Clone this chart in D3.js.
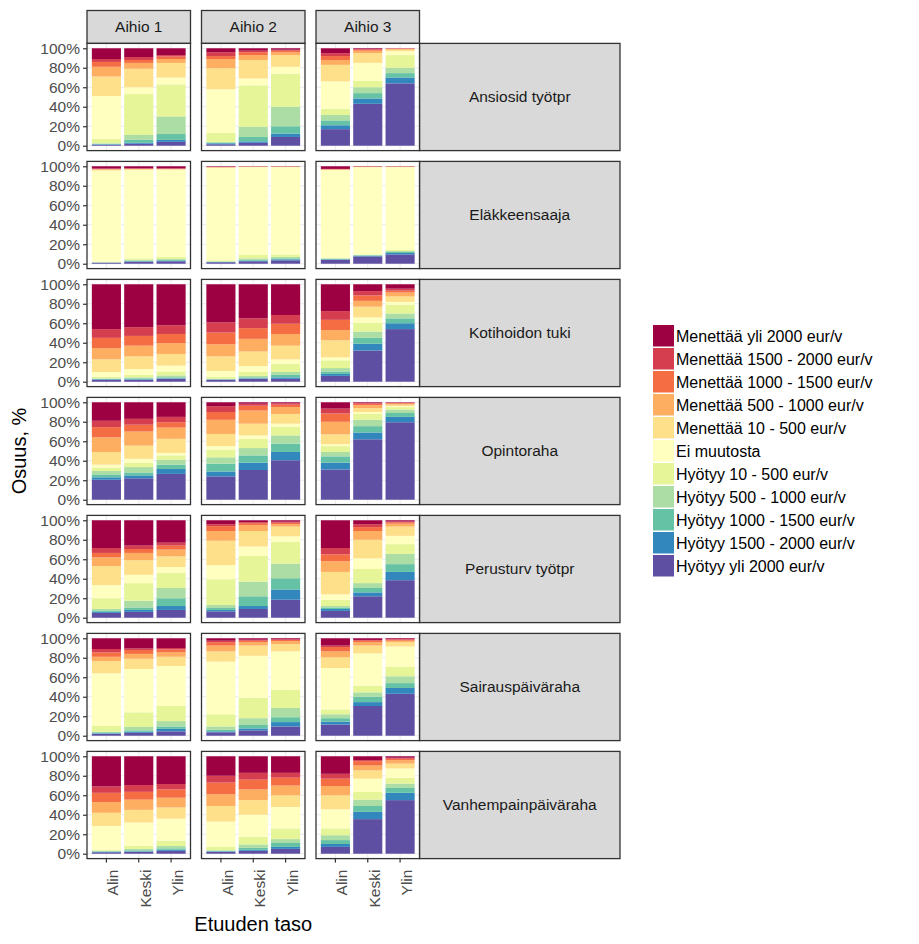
<!DOCTYPE html>
<html><head><meta charset="utf-8">
<script src="https://cdn.jsdelivr.net/npm/d3@7"></script>
<style>body{margin:0;background:#fff;}svg{display:block;font-family:"Liberation Sans",Arial,sans-serif;}</style>
</head><body><svg id="c" width="919" height="944"></svg>
<script>
// Legend order (top to bottom)
const categories = ["Menettää yli 2000 eur/v","Menettää 1500 - 2000 eur/v","Menettää 1000 - 1500 eur/v","Menettää 500 - 1000 eur/v","Menettää 10 - 500 eur/v","Ei muutosta","Hyötyy 10 - 500 eur/v","Hyötyy 500 - 1000 eur/v","Hyötyy 1000 - 1500 eur/v","Hyötyy 1500 - 2000 eur/v","Hyötyy yli 2000 eur/v"];
const colors = ["#9e0142","#d53e4f","#f46d43","#fdae61","#fee08b","#ffffbf","#e6f598","#abdda4","#66c2a5","#3288bd","#5e4fa2"];
const schemes = ["Aihio 1","Aihio 2","Aihio 3"];
const levels = ["Alin","Keski","Ylin"];
const benefits = ["Ansiosid työtpr","Eläkkeensaaja","Kotihoidon tuki","Opintoraha","Perusturv työtpr","Sairauspäiväraha","Vanhempainpäiväraha"];
const yTicks = [0,0.2,0.4,0.6,0.8,1];
// values per bar, stacked bottom (Hyötyy yli 2000) to top (Menettää yli 2000), %
// rows: Aihio1 Alin/Keski/Ylin, Aihio2 ..., Aihio3 ...
const ansiosid = [
[1,0.5,0.5,0.5,4.5,44,20,10,5,3,11],
[2,1,3,5,42,7,19,6,3,3,9],
[4,2,6,18,33,7,15,4,2.5,1.5,7],
[1.5,1,0.5,1,9,45,21.5,9.5,3,4,4],
[3,1.5,4.5,10.5,42.5,7,19,5,3,1.5,2.5],
[9,3.5,7.5,20,34,7,12,3,1.5,1,1.5],
[17,4,5,5.5,6.5,28,17,5,4,3,5],
[43,5.5,5.5,6,6.5,18.5,10,2.5,1,0.8,0.7],
[64,6,4.5,5.5,13,4,1.5,0.8,0.3,0.2,0.2]];
const elake = [
[1,0.2,0.2,0.2,0.4,93.5,1,0.5,0.3,0.4,2.3],
[2,0.5,0.5,1,1.5,90.5,1,0.3,0.2,0.4,2.1],
[2.5,0.5,1,1,2,89.5,0.5,0.3,0.2,0.3,2.2],
[1.5,0.3,0.2,0.5,1,95,0.3,0.2,0.2,0.3,0.5],
[2.5,0.5,1,1.5,3.5,90,0.3,0.2,0.1,0.2,0.2],
[3.5,1,1,1.5,2.5,89.5,0.3,0.2,0.1,0.2,0.2],
[4,0.5,0.5,0.5,0.5,90,0.5,0.3,0.2,0.3,2.7],
[7.5,0.7,0.5,0.3,0.5,89.5,0.2,0.2,0.1,0.2,0.3],
[9.5,1.5,1,1,1,85,0.3,0.2,0.1,0.2,0.2]];
const koti = [
[2,0.5,0.5,0.5,1.5,5,13,11.5,10.5,9,46],
[2,0.5,1,1,2.5,6,13,11,10,9,44],
[3,0.5,1,2,4,6,12,11,9.5,9,42],
[2,0.3,0.3,0.4,2,6,15,12.5,12,10.5,39],
[3,0.5,1,1.5,4,6,15,13,11,10,35],
[3,1.5,2.5,3,8.5,4.5,14,12,10.5,9,31.5],
[6,2,2.5,3.5,8,3,17.5,10.5,10.5,9,27.5],
[32,7,6,6.5,9,5.5,11,6,5.5,4.5,7],
[54,6,5,5,9,3,5.5,4,2,2,4.5]];
const opinto = [
[20.5,2.5,3,3.5,3.5,3,13,15,10.5,6.5,19],
[22,3,3,5.5,4.5,4,13.5,14.5,7,6,17],
[26.5,5,4.5,5,4.5,2.5,14.5,11.5,5.5,5.5,15],
[24,5,8,6.5,8,3.5,12.5,14.5,8,6,4],
[30.5,7.5,7.5,7.5,9.5,3.5,12,13.5,5,2,1.5],
[40.5,8.5,8.5,8.5,9,3,10,7,2.5,1.5,1],
[31,7,6.5,4.5,6,2,10,13,8.5,5,6.5],
[62,7,6.5,6.5,6,2,4,3,1.5,0.8,0.7],
[79.5,5.5,4,3.5,2.5,1,1.5,1,0.8,0.3,0.4]];
const perus = [
[5,1,1.5,1.5,11,13.5,19.5,9,4.5,5,28.5],
[6,2,2.5,7,18,8.5,15,7.5,4,3.5,26],
[8,4,8,10.5,15.5,6,11,7,4,3,23],
[6.5,1.5,2,3,26.5,14.5,25,10,5,2,4],
[9,3,10,15,26.5,9.5,16,6,2,1,2],
[18.5,10.5,11.5,15,22.5,5.5,10,2.5,1.5,1,1.5],
[7,2,1.5,1.5,6.5,5.5,23,11,7,6.5,28.5],
[22,4,4.5,5,14.5,11,19,9,4,3,4],
[38.5,8.5,8,10.5,10,8.5,9.5,3,1.5,0.7,1.3]];
const saira = [
[2,0.5,1,0.5,6,54,12.5,4.5,4.5,3.5,11],
[3,1,1.5,3.5,15,44.5,10.5,5,4,1.5,10.5],
[4.5,2.5,2.5,5.5,15.5,41,9.5,4.5,3,1.5,10],
[3.5,1,1.5,3.5,12.5,54,10.5,6,3.5,1.5,2.5],
[5.5,2,3.5,7,21,43,10.5,3.5,1.5,1,1.5],
[9.5,4.5,5,9.5,18.5,39.5,7.5,3,1.3,0.7,1],
[11.5,3,3.5,4,5,42.5,11,6,4.5,1.5,7.5],
[30.5,4,5.5,4.5,7,33,8,3.5,1.5,0.8,1.7],
[43,6,5,7,9.5,21,4.5,1.5,1,0.7,0.8]];
const vanhem = [
[1.5,0.5,0.5,0.5,1,24.5,13.5,11,9.5,6.5,31],
[2,0.5,1,1.5,3,24,13,10.5,8,7,29.5],
[3,1,1.5,2.5,5.5,22.5,11.5,10,8.5,5.5,28.5],
[2,0.5,0.5,0.5,3.5,26,16,12,12,7,20],
[3,1,2,3.5,8,22.5,15,11,10,7,17],
[5,2,4,4,11,22,12,10,8,5,17],
[7,3,4,5,7,19.5,14.5,9.5,7.5,5,18],
[35.5,7.5,6,6.5,8,13.5,8.5,5,4.5,1,4],
[55,7.5,5,4.5,6,9.5,5,3.5,1.5,1,1.5]];
const benefitData = [ansiosid, elake, koti, opinto, perus, saira, vanhem];

// ---- layout ----
const svg = d3.select("#c");
const colLeft = [87, 201.5, 316], panelW = 103.5;
const rowTop0 = 43.4, rowStep = 118, panelH = 107.2;
const stripRight = 620, topStripY = 10.5;
const stackKeys = d3.range(11); // index into data row, bottom->top
const colorOfKey = k => colors[10 - k];

const x = d3.scaleBand().domain(levels).range([0, panelW]).paddingInner(0.1).paddingOuter(0.15);
const y = d3.scaleLinear().domain([-0.05, 1.05]).range([panelH, 0]);
const stack = d3.stack().keys(stackKeys).offset(d3.stackOffsetExpand);

// top strips
schemes.forEach((s, j) => {
  const g = svg.append("g").attr("transform", `translate(${colLeft[j]},${topStripY})`);
  g.append("rect").attr("width", panelW).attr("height", rowTop0 - topStripY)
   .attr("fill", "#d9d9d9").attr("stroke", "#333").attr("stroke-width", 1.3);
  g.append("text").attr("x", panelW/2).attr("y", (rowTop0 - topStripY)/2 + 5.5)
   .attr("text-anchor", "middle").attr("font-size", 15.5).attr("fill", "#1a1a1a").text(s);
});

benefits.forEach((b, i) => {
  const top = rowTop0 + i*rowStep;
  const data = benefitData[i];
  // right strip
  const sg = svg.append("g").attr("transform", `translate(${colLeft[2]+panelW},${top})`);
  sg.append("rect").attr("width", stripRight - colLeft[2] - panelW).attr("height", panelH)
    .attr("fill", "#d9d9d9").attr("stroke", "#333").attr("stroke-width", 1.3);
  sg.append("text").attr("x", (stripRight - colLeft[2] - panelW)/2).attr("y", panelH/2 + 5.5)
    .attr("text-anchor", "middle").attr("font-size", 15.5).attr("fill", "#1a1a1a").text(b);

  schemes.forEach((s, j) => {
    const g = svg.append("g").attr("transform", `translate(${colLeft[j]},${top})`);
    g.append("rect").attr("width", panelW).attr("height", panelH).attr("fill", "#fff");
    // grid
    const minor = [0.1,0.3,0.5,0.7,0.9];
    g.selectAll(".gmn").data(minor).enter().append("line")
      .attr("x1", 0).attr("x2", panelW).attr("y1", d => y(d)).attr("y2", d => y(d))
      .attr("stroke", "#f2f2f2").attr("stroke-width", 0.6);
    g.selectAll(".gmj").data(yTicks).enter().append("line")
      .attr("x1", 0).attr("x2", panelW).attr("y1", d => y(d)).attr("y2", d => y(d))
      .attr("stroke", "#ebebeb").attr("stroke-width", 1);
    g.selectAll(".gx").data(levels).enter().append("line")
      .attr("y1", 0).attr("y2", panelH).attr("x1", d => x(d) + x.bandwidth()/2).attr("x2", d => x(d) + x.bandwidth()/2)
      .attr("stroke", "#ebebeb").attr("stroke-width", 1);
    // bars
    const rows = levels.map((lv, k) => {
      const o = {level: lv};
      data[j*3 + k].forEach((v, idx) => o[idx] = v);
      return o;
    });
    const series = stack(rows);
    series.forEach(ser => {
      g.selectAll(null).data(ser).enter().append("rect")
        .attr("x", d => x(d.data.level))
        .attr("width", x.bandwidth())
        .attr("y", d => y(d[1]))
        .attr("height", d => Math.max(0, y(d[0]) - y(d[1])))
        .attr("fill", colorOfKey(ser.key));
    });
    g.append("rect").attr("width", panelW).attr("height", panelH)
      .attr("fill", "none").attr("stroke", "#333").attr("stroke-width", 1.3);
    // y axis on first column
    if (j === 0) {
      const ya = g.append("g").call(d3.axisLeft(y).tickValues(yTicks).tickFormat(d3.format(".0%")).tickSize(4).tickPadding(3));
      ya.select(".domain").remove();
      ya.selectAll("line").attr("stroke", "#333").attr("stroke-width", 1.2);
      ya.selectAll("text").attr("font-size", 15.5).attr("fill", "#4d4d4d")
        .attr("font-family", "Liberation Sans, Arial, sans-serif");
    }
    // x axis on last row
    if (i === benefits.length - 1) {
      const xa = g.append("g").attr("transform", `translate(0,${panelH})`)
        .call(d3.axisBottom(x).tickSize(4).tickPadding(0));
      xa.select(".domain").remove();
      xa.selectAll("line").attr("stroke", "#333").attr("stroke-width", 1.2);
      xa.selectAll("text").attr("font-size", 15.5).attr("fill", "#4d4d4d")
        .attr("font-family", "Liberation Sans, Arial, sans-serif")
        .attr("text-anchor", "end").attr("dy", null)
        .attr("transform", "translate(12,11) rotate(-90)").attr("x", 0).attr("y", 0);
    }
  });
});

// axis titles
const panelsBottom = rowTop0 + 6*rowStep + panelH;
svg.append("text").attr("transform", `translate(26,${(rowTop0 + panelsBottom)/2}) rotate(-90)`)
  .attr("text-anchor", "middle").attr("font-size", 20).attr("fill", "#000").text("Osuus, %");
svg.append("text").attr("x", (colLeft[0] + colLeft[2] + panelW)/2).attr("y", 931)
  .attr("text-anchor", "middle").attr("font-size", 20).attr("fill", "#000").text("Etuuden taso");

// legend
const lg = svg.append("g").attr("transform", "translate(653,325)");
categories.forEach((c, k) => {
  lg.append("rect").attr("x", 0).attr("y", k*23).attr("width", 21).attr("height", 21.5).attr("fill", colors[k]);
  lg.append("text").attr("x", 23).attr("y", k*23 + 16.5).attr("font-size", 16).attr("fill", "#000").text(c);
});
</script></body></html>
